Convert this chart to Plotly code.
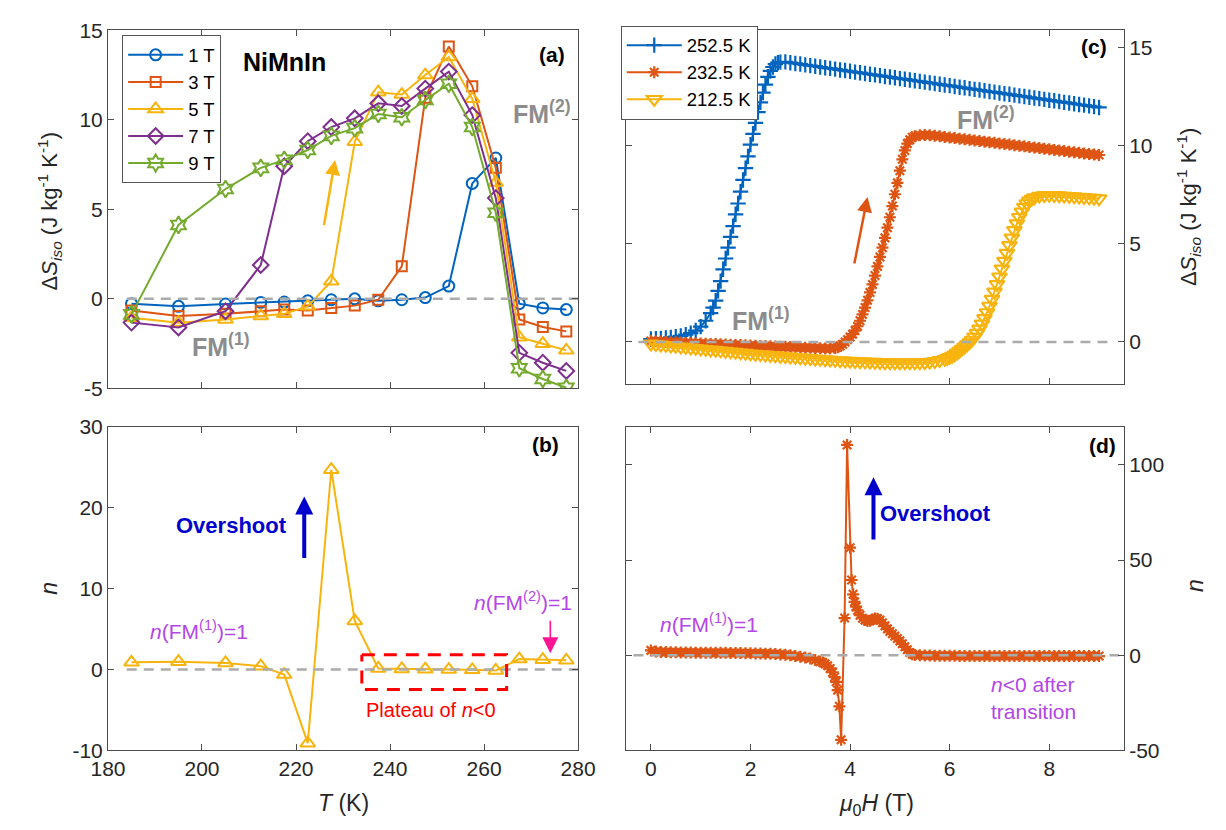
import plotly.graph_objects as go

# ---------------- data ----------------
T_K = [185, 195, 205, 212.5, 217.5, 222.5, 227.5, 232.5, 237.5, 242.5, 247.5, 252.5, 257.5, 262.5, 267.5, 272.5, 277.5]
dS_1T = [-0.27, -0.42, -0.29, -0.20, -0.18, -0.11, -0.05, 0.00, -0.11, -0.05, 0.07, 0.71, 6.45, 7.87, -0.27, -0.51, -0.60]
dS_3T = [-0.65, -0.96, -0.84, -0.69, -0.60, -0.65, -0.51, -0.38, -0.05, 1.82, 11.24, 14.10, 11.88, 7.32, -1.15, -1.57, -1.82]
dS_5T = [-1.06, -1.33, -1.15, -0.96, -0.84, -0.42, 0.98, 8.78, 11.55, 11.42, 12.51, 13.52, 11.18, 6.50, -2.15, -2.51, -2.88]
dS_7T = [-1.33, -1.60, -0.69, 1.89, 7.41, 8.81, 9.60, 10.09, 10.93, 10.78, 11.75, 12.70, 10.27, 5.63, -3.02, -3.57, -4.03]
dS_9T = [-0.87, 4.13, 6.14, 7.32, 7.77, 8.32, 9.11, 9.54, 10.33, 10.15, 11.11, 12.02, 9.60, 4.81, -3.88, -4.48, -4.97]
n_5T = [0.88, 0.96, 0.80, 0.40, -0.64, -9.12, 24.7, 6.0, 0.12, 0.05, 0.02, -0.02, -0.05, -0.12, 1.28, 1.20, 1.12]
field_labels_a = ["1 T", "3 T", "5 T", "7 T", "9 T"]

H_2525 = [0.0, 0.1, 0.2, 0.3, 0.4, 0.5, 0.6, 0.7, 0.8, 0.9, 1.0, 1.1, 1.2,
          1.25, 1.3, 1.35, 1.4, 1.45, 1.5, 1.55, 1.6, 1.65, 1.7, 1.75, 1.8, 1.85, 1.9, 1.95, 2.0,
          2.05, 2.1, 2.15, 2.2, 2.25, 2.3, 2.35, 2.4, 2.45, 2.5, 2.55,
          2.6, 2.7, 2.8, 2.9, 3.0, 3.1, 3.2, 3.3, 3.4, 3.5, 3.6, 3.7, 3.8, 3.9, 4.0, 4.1, 4.2, 4.3,
          4.4, 4.5, 4.6, 4.7, 4.8, 4.9, 5.0, 5.1, 5.2, 5.3, 5.4, 5.5, 5.6, 5.7, 5.8, 5.9, 6.0, 6.1,
          6.2, 6.3, 6.4, 6.5, 6.6, 6.7, 6.8, 6.9, 7.0, 7.1, 7.2, 7.3, 7.4, 7.5, 7.6, 7.7, 7.8, 7.9,
          8.0, 8.1, 8.2, 8.3, 8.4, 8.5, 8.6, 8.7, 8.8, 8.9, 9.0]
dS_2525 = [0.15, 0.16, 0.18, 0.20, 0.23, 0.27, 0.31, 0.37, 0.45, 0.58, 0.78, 1.08, 1.47,
           1.75, 2.10, 2.60, 3.10, 3.70, 4.25, 4.80, 5.35, 5.90, 6.50, 7.05, 7.65, 8.25, 8.85, 9.45, 10.05,
           10.60, 11.15, 11.70, 12.20, 12.70, 13.10, 13.50, 13.80, 14.00, 14.15, 14.22,
           14.25, 14.26, 14.22, 14.18, 14.15, 14.11, 14.07, 14.04, 14.00, 13.96, 13.93, 13.89, 13.85,
           13.82, 13.78, 13.74, 13.71, 13.67, 13.63, 13.60, 13.56, 13.52, 13.49, 13.45, 13.41, 13.38,
           13.34, 13.30, 13.27, 13.23, 13.19, 13.16, 13.12, 13.08, 13.05, 13.01, 12.97, 12.94, 12.90,
           12.86, 12.83, 12.79, 12.75, 12.72, 12.68, 12.64, 12.61, 12.57, 12.53, 12.50, 12.46, 12.42,
           12.39, 12.35, 12.31, 12.28, 12.24, 12.20, 12.17, 12.13, 12.09, 12.06, 12.02, 11.98, 11.94]

H_2325 = [0.0, 0.1, 0.2, 0.3, 0.4, 0.5, 0.6, 0.7, 0.8, 0.9, 1.0, 1.1, 1.2, 1.3, 1.4, 1.5, 1.6, 1.7, 1.8,
          1.9, 2.0, 2.1, 2.2, 2.3, 2.4, 2.5, 2.6, 2.7, 2.8, 2.9, 3.0, 3.1, 3.2, 3.3, 3.4, 3.5, 3.6, 3.7,
          3.75, 3.8, 3.85, 3.9, 3.95, 4.0, 4.05, 4.1, 4.15, 4.2, 4.25, 4.3, 4.35, 4.4, 4.45, 4.5, 4.55,
          4.6, 4.65, 4.7, 4.75, 4.8, 4.85, 4.9, 4.95, 5.0, 5.05, 5.1, 5.15, 5.2, 5.25, 5.3,
          5.4, 5.5, 5.6, 5.7, 5.8, 5.9, 6.0, 6.1, 6.2, 6.3, 6.4, 6.5, 6.6, 6.7, 6.8, 6.9, 7.0, 7.1,
          7.2, 7.3, 7.4, 7.5, 7.6, 7.7, 7.8, 7.9, 8.0, 8.1, 8.2, 8.3, 8.4, 8.5, 8.6, 8.7, 8.8, 8.9, 9.0]
dS_2325 = [0.05, 0.03, 0.02, 0.00, -0.01, -0.02, -0.03, -0.05, -0.06, -0.07, -0.08, -0.09, -0.10, -0.11,
           -0.12, -0.13, -0.14, -0.15, -0.16, -0.17, -0.18, -0.19, -0.20, -0.21, -0.22, -0.23, -0.24,
           -0.25, -0.26, -0.27, -0.28, -0.29, -0.30, -0.31, -0.32, -0.33, -0.33, -0.31,
           -0.27, -0.21, -0.12, 0.00, 0.12, 0.25, 0.40, 0.58, 0.80, 1.08, 1.40, 1.75, 2.12, 2.52, 2.93,
           3.38, 3.85, 4.33, 4.80, 5.30, 5.82, 6.35, 6.92, 7.52, 8.10, 8.72, 9.30, 9.75, 10.10, 10.30,
           10.42, 10.48,
           10.53, 10.54, 10.53, 10.50, 10.47, 10.44, 10.41, 10.38, 10.35, 10.32, 10.29, 10.26, 10.23,
           10.20, 10.17, 10.14, 10.11, 10.08, 10.05, 10.02, 9.99, 9.96, 9.93, 9.90, 9.87, 9.84, 9.81,
           9.78, 9.75, 9.72, 9.69, 9.66, 9.63, 9.60, 9.57, 9.54, 9.52]

H_2125 = [0.0, 0.1, 0.2, 0.3, 0.4, 0.5, 0.6, 0.7, 0.8, 0.9, 1.0, 1.1, 1.2, 1.3, 1.4, 1.5, 1.6, 1.7, 1.8,
          1.9, 2.0, 2.1, 2.2, 2.3, 2.4, 2.5, 2.6, 2.7, 2.8, 2.9, 3.0, 3.1, 3.2, 3.3, 3.4, 3.5, 3.6, 3.7,
          3.8, 3.9, 4.0, 4.1, 4.2, 4.3, 4.4, 4.5, 4.6, 4.7, 4.8, 4.9, 5.0, 5.1, 5.2, 5.3, 5.4, 5.5, 5.6,
          5.7, 5.8, 5.9,
          5.95, 6.0, 6.05, 6.1, 6.15, 6.2, 6.25, 6.3, 6.35, 6.4, 6.45, 6.5, 6.55, 6.6, 6.65, 6.7, 6.75,
          6.8, 6.85, 6.9, 6.95, 7.0, 7.05, 7.1, 7.15, 7.2, 7.25, 7.3, 7.35, 7.4, 7.45, 7.5, 7.55, 7.6,
          7.65, 7.7,
          7.8, 7.9, 8.0, 8.1, 8.2, 8.3, 8.4, 8.5, 8.6, 8.7, 8.8, 8.9, 9.0]
dS_2125 = [-0.10, -0.12, -0.15, -0.17, -0.20, -0.22, -0.25, -0.27, -0.30, -0.32, -0.35, -0.37, -0.40,
           -0.42, -0.45, -0.47, -0.50, -0.52, -0.55, -0.57, -0.60, -0.62, -0.64, -0.66, -0.68, -0.70,
           -0.72, -0.74, -0.76, -0.78, -0.80, -0.82, -0.84, -0.86, -0.88, -0.90, -0.91, -0.93, -0.95,
           -0.96, -0.98, -0.99, -1.00, -1.01, -1.02, -1.03, -1.04, -1.05, -1.05, -1.06, -1.06, -1.06,
           -1.06, -1.06, -1.05, -1.04, -1.02, -0.99, -0.94, -0.88,
           -0.84, -0.78, -0.72, -0.65, -0.56, -0.46, -0.36, -0.25, -0.14, -0.03, 0.10, 0.26, 0.45, 0.67,
           0.92, 1.20, 1.50, 1.83, 2.18, 2.55, 2.93, 3.32, 3.72, 4.12, 4.52, 4.92, 5.30, 5.68, 6.03,
           6.35, 6.63, 6.87, 7.05, 7.18, 7.28, 7.35,
           7.43, 7.46, 7.47, 7.46, 7.45, 7.43, 7.42, 7.40, 7.38, 7.36, 7.34, 7.32, 7.30]

H_n = [0.0, 0.1, 0.2, 0.3, 0.4, 0.5, 0.6, 0.7, 0.8, 0.9, 1.0, 1.1, 1.2, 1.3, 1.4, 1.5, 1.6, 1.7, 1.8,
       1.9, 2.0, 2.1, 2.2, 2.3, 2.4, 2.5, 2.6, 2.7, 2.8, 2.9, 3.0, 3.1, 3.2, 3.3, 3.4,
       3.45, 3.5, 3.55, 3.6, 3.65, 3.69, 3.72, 3.75, 3.785, 3.82, 3.89, 3.94, 4.0, 4.03, 4.06, 4.09,
       4.12, 4.15, 4.2, 4.25, 4.3, 4.35, 4.4, 4.45, 4.5, 4.55, 4.6, 4.65, 4.7, 4.75, 4.8, 4.85, 4.9,
       4.95, 5.0, 5.05, 5.1, 5.15, 5.2, 5.25, 5.3,
       5.4, 5.5, 5.6, 5.7, 5.8, 5.9, 6.0, 6.1, 6.2, 6.3, 6.4, 6.5, 6.6, 6.7, 6.8, 6.9, 7.0, 7.1, 7.2,
       7.3, 7.4, 7.5, 7.6, 7.7, 7.8, 7.9, 8.0, 8.1, 8.2, 8.3, 8.4, 8.5, 8.6, 8.7, 8.8, 8.9, 9.0]
n_2325 = [2.5, 1.9, 1.7, 1.6, 1.5, 1.5, 1.4, 1.4, 1.4, 1.3, 1.3, 1.3, 1.3, 1.2, 1.2, 1.2, 1.1, 1.1, 1.1,
          1.0, 1.0, 0.9, 0.9, 0.8, 0.7, 0.6, 0.4, 0.2, -0.1, -0.4, -0.8, -1.2, -1.8, -2.5, -3.4,
          -3.9, -4.5, -5.6, -7.0, -9.0, -11.5, -14.0, -18.4, -26.9, -44.5, 19.5, 110.5, 56.5, 39.5,
          32.0, 28.0, 25.5, 23.5, 21.0, 19.4, 18.5, 18.0, 18.1, 18.7, 19.3, 19.2, 18.4, 17.0, 15.4,
          13.8, 12.4, 11.2, 10.0, 8.8, 7.5, 6.0, 4.4, 2.8, 1.4, 0.5, 0.1,
          -0.1, -0.2, -0.2, -0.3, -0.3, -0.3, -0.3, -0.3, -0.4, -0.4, -0.4, -0.4, -0.4, -0.4, -0.4,
          -0.4, -0.4, -0.4, -0.4, -0.5, -0.5, -0.5, -0.5, -0.5, -0.5, -0.5, -0.5, -0.5, -0.5, -0.5,
          -0.5, -0.5, -0.5, -0.5, -0.5, -0.5, -0.5]
temp_labels_c = ["252.5 K", "232.5 K", "212.5 K"]

# ---------------- style ----------------
FONT = "Liberation Sans, Arial, Helvetica, sans-serif"
W, HGT = 1226, 830
BLUE = "#0064BE"
ORANGE = "#DE5413"
YELLOW = "#F8B40E"
PURPLE = "#7E2F8E"
GREEN = "#74AA2E"
GRAY = "#8C8C8C"
DASHGRAY = "#ABABAB"
AXC = "#4D4D4D"


def fx(p):
    return p / W


def fy(p):
    return 1 - p / HGT


fig = go.Figure()

series_a = [dS_1T, dS_3T, dS_5T, dS_7T, dS_9T]
colors_a = [BLUE, ORANGE, YELLOW, PURPLE, GREEN]
symbols_a = ["circle-open", "square-open", "triangle-up-open", "diamond-open", "hexagram-open"]
sizes_a = [11, 10, 13, 12, 13]
for name, ys, c, s, sz in zip(field_labels_a, series_a, colors_a, symbols_a, sizes_a):
    fig.add_trace(go.Scatter(
        x=T_K, y=ys, mode="lines+markers", name=name,
        line=dict(color=c, width=2),
        marker=dict(symbol=s, size=sz, color=c, line=dict(width=2, color=c)),
        xaxis="x", yaxis="y", legend="legend"))

fig.add_trace(go.Scatter(
    x=T_K, y=n_5T, mode="lines+markers", showlegend=False,
    line=dict(color=YELLOW, width=2),
    marker=dict(symbol="triangle-up-open", size=13, color=YELLOW, line=dict(width=2, color=YELLOW)),
    xaxis="x2", yaxis="y2"))

series_c = [(H_2525, dS_2525, BLUE, "cross-thin", 11),
            (H_2325, dS_2325, ORANGE, "asterisk", 10),
            (H_2125, dS_2125, YELLOW, "triangle-down-open", 13)]
for name, (hx, ys, c, s, sz) in zip(temp_labels_c, series_c):
    fig.add_trace(go.Scatter(
        x=hx, y=ys, mode="lines+markers", name=name,
        line=dict(color=c, width=2),
        marker=dict(symbol=s, size=sz, color=c, line=dict(width=2.2, color=c)),
        xaxis="x3", yaxis="y3", legend="legend2"))

fig.add_trace(go.Scatter(
    x=H_n, y=n_2325, mode="lines+markers", showlegend=False,
    line=dict(color=ORANGE, width=2),
    marker=dict(symbol="asterisk", size=10, color=ORANGE, line=dict(width=2.2, color=ORANGE)),
    xaxis="x4", yaxis="y4"))

# dashed zero reference lines
for xs, xa, ya in [([184, 280], "x", "y"), ([184, 280], "x2", "y2"),
                   ([-0.25, 9.2], "x3", "y3"), ([-0.35, 9.4], "x4", "y4")]:
    fig.add_trace(go.Scatter(x=xs, y=[0, 0], mode="lines", showlegend=False,
                             line=dict(color=DASHGRAY, width=2.5, dash="10px,7px"),
                             xaxis=xa, yaxis=ya, hoverinfo="skip"))

# red dashed plateau box in (b)
fig.add_trace(go.Scatter(x=[234.0, 264.8, 264.8, 234.0, 234.0], y=[1.8, 1.8, -2.47, -2.47, 1.8],
                         mode="lines", showlegend=False,
                         line=dict(color="#FF0000", width=3, dash="13px,9px"),
                         xaxis="x2", yaxis="y2", hoverinfo="skip"))


def axis(**kw):
    d = dict(showgrid=False, zeroline=False, showline=True, linecolor=AXC, linewidth=1,
             mirror="ticks", ticks="inside", ticklen=6, tickwidth=1, tickcolor=AXC,
             tickfont=dict(family=FONT, size=21, color="#262626"))
    d.update(kw)
    return d


xA = [fx(92.7), fx(577)]
xC = [fx(626.4), fx(1139.4)]
yA = [fy(387), fy(19)]
yC = [fy(383), fy(19)]
yB = [fy(759.3), fy(426.7)]

fig.update_layout(
    width=W, height=HGT, margin=dict(l=0, r=0, t=0, b=0),
    paper_bgcolor="white", plot_bgcolor="white",
    font=dict(family=FONT, color="black"),
    xaxis=axis(domain=xA, range=[180, 280], tickvals=[180, 200, 220, 240, 260, 280],
               showticklabels=False, anchor="y"),
    yaxis=axis(domain=yA, range=[-5, 15], tickvals=[-5, 0, 5, 10, 15],
               ticktext=["-5", "0", "5", "10", "15"], anchor="x"),
    xaxis2=axis(domain=xA, range=[180, 280], tickvals=[180, 200, 220, 240, 260, 280], anchor="y2"),
    yaxis2=axis(domain=yB, range=[-10, 30], tickvals=[-10, 0, 10, 20, 30],
                ticktext=["-10", "0", "10", "20", "30"], anchor="x2"),
    xaxis3=axis(domain=xC, range=[-0.5, 9.5], tickvals=[0, 2, 4, 6, 8],
                showticklabels=False, anchor="y3"),
    yaxis3=axis(domain=yC, range=[-2.16, 15.86], tickvals=[0, 5, 10, 15], side="right", anchor="x3"),
    xaxis4=axis(domain=xC, range=[-0.5, 9.5], tickvals=[0, 2, 4, 6, 8], anchor="y4"),
    yaxis4=axis(domain=yB, range=[-50, 120], tickvals=[-50, 0, 50, 100],
                ticktext=["-50", "0", "50", "100"], side="right", anchor="x4"),
    legend=dict(x=fx(107.3), y=fy(24), xanchor="left", yanchor="top",
                bordercolor="#555555", borderwidth=1, bgcolor="white", itemwidth=55,
                font=dict(family=FONT, size=18.5, color="black"), tracegroupgap=0),
    legend2=dict(x=fx(621), y=fy(14), xanchor="left", yanchor="top",
                 bordercolor="#555555", borderwidth=1, bgcolor="white", itemwidth=55,
                 font=dict(family=FONT, size=18.5, color="black"), tracegroupgap=0),
)

ann = []


def txt(text, x, y, xref, yref, size=21, color="black", **kw):
    d = dict(text=text, x=x, y=y, xref=xref, yref=yref, showarrow=False,
             font=dict(family=FONT, size=size, color=color), xanchor="center", yanchor="middle")
    d.update(kw)
    ann.append(d)


def arrow(x0, y0, x1, y1, xref, yref, color, width, size=1.0):
    ann.append(dict(text="", x=x1, y=y1, ax=x0, ay=y0, xref=xref, yref=yref, axref=xref, ayref=yref,
                    showarrow=True, arrowhead=2, arrowsize=size, arrowwidth=width, arrowcolor=color))


# panel (a)
txt("<b>NiMnIn</b>", 217.6, 13.26, "x", "y", size=25)
txt("<b>(a)</b>", 274.45, 13.63, "x", "y", size=21)
txt("<b>FM<sup>(2)</sup></b>", 272.3, 10.44, "x", "y", size=25, color=GRAY)
txt("<b>FM<sup>(1)</sup></b>", 204.0, -2.6, "x", "y", size=25, color=GRAY)
arrow(225.9, 4.03, 228.3, 7.76, "x", "y", YELLOW, 2.5, 1.2)

# panel (b)
txt("<b>(b)</b>", 273.1, 27.8, "x2", "y2", size=21)
txt("<b>Overshoot</b>", 206.3, 17.8, "x2", "y2", size=22, color="#0000CD")
arrow(221.75, 13.6, 221.75, 21.4, "x2", "y2", "#0000CD", 4, 0.9)
txt("<i>n</i>(FM<sup>(1)</sup>)=1", 199.4, 4.9, "x2", "y2", size=21, color="#B446E6")
txt("<i>n</i>(FM<sup>(2)</sup>)=1", 268.3, 8.5, "x2", "y2", size=21, color="#B446E6")
arrow(274.1, 6.2, 274.1, 2.0, "x2", "y2", "#FF1493", 1.6, 2.0)
txt("Plateau of <i>n</i>&lt;0", 248.75, -5.0, "x2", "y2", size=20, color="#FF0000")

# panel (c)
txt("<b>(c)</b>", 8.9, 15.02, "x3", "y3", size=21)
txt("<b>FM<sup>(2)</sup></b>", 6.73, 11.4, "x3", "y3", size=25, color=GRAY)
txt("<b>FM<sup>(1)</sup></b>", 2.21, 1.16, "x3", "y3", size=25, color=GRAY)
arrow(4.08, 3.92, 4.35, 7.38, "x3", "y3", ORANGE, 2.5, 1.2)

# panel (d)
txt("<b>(d)</b>", 9.06, 110.2, "x4", "y4", size=21)
txt("<b>Overshoot</b>", 5.72, 74.3, "x4", "y4", size=22, color="#0000CD")
arrow(4.47, 60.0, 4.47, 93.5, "x4", "y4", "#0000CD", 4, 0.9)
txt("<i>n</i>(FM<sup>(1)</sup>)=1", 1.17, 17.0, "x4", "y4", size=21, color="#B446E6")
txt("<i>n</i>&lt;0 after<br>transition", 7.69, -22.5, "x4", "y4", size=21, color="#B446E6", align="left")

# axis titles
txt("Δ<i>S</i><sub><i>iso</i></sub> (J kg<sup>-1</sup> K<sup>-1</sup>)", fx(32), fy(205), "paper", "paper",
    size=22, color="#262626", textangle=-90)
txt("<i>n</i>", fx(32), fy(593), "paper", "paper", size=23, color="#262626", textangle=-90)
txt("Δ<i>S</i><sub><i>iso</i></sub> (J kg<sup>-1</sup> K<sup>-1</sup>)", fx(1206), fy(201), "paper", "paper",
    size=22, color="#262626", textangle=-90)
txt("<i>n</i>", fx(1212), fy(590), "paper", "paper", size=23, color="#262626", textangle=-90)
txt("<i>T</i> (K)", fx(335), fy(814), "paper", "paper", size=23, color="#262626")
txt("<i>μ</i><sub>0</sub><i>H</i> (T)", fx(884), fy(815), "paper", "paper", size=23, color="#262626")

fig.update_layout(annotations=ann)
fig.write_html("out.html")
